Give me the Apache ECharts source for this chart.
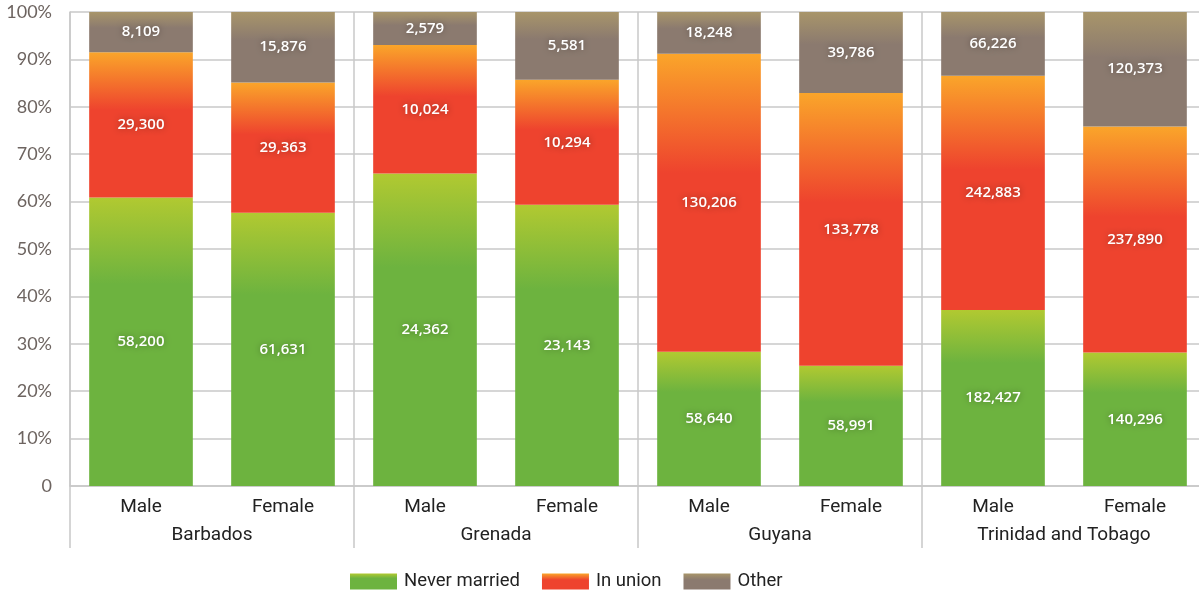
<!DOCTYPE html>
<html>
<head>
<meta charset="utf-8">
<script src="https://cdn.jsdelivr.net/npm/echarts@6/dist/echarts.min.js"></script>
<style>
html,body{margin:0;padding:0;background:#fff;overflow:hidden;width:1199px;height:590px;}
#chart{width:1206px;height:590px;}
</style>
</head>
<body>
<div id="chart"></div>
<script>
var sexes = ['Male', 'Female', 'Male', 'Female', 'Male', 'Female', 'Male', 'Female'];
var countries = ['Barbados', 'Grenada', 'Guyana', 'Trinidad and Tobago'];
var neverMarried = [58200, 61631, 24362, 23143, 58640, 58991, 182427, 140296];
var inUnion = [29300, 29363, 10024, 10294, 130206, 133778, 242883, 237890];
var other = [8109, 15876, 2579, 5581, 18248, 39786, 66226, 120373];
var yTicks = [0, 10, 20, 30, 40, 50, 60, 70, 80, 90, 100];

var totals = neverMarried.map(function (v, i) { return v + inUnion[i] + other[i]; });
function pct(arr) {
  return arr.map(function (v, i) { return { value: v / totals[i] * 100, raw: v }; });
}
function grad(stops) {
  return new echarts.graphic.LinearGradient(0, 0, 0, 1, stops);
}
var labelStyle = {
  show: true,
  position: 'inside',
  color: '#fff',
  fontFamily: 'Open Sans',
  fontWeight: 600,
  fontSize: 15,
  textShadowColor: 'rgba(0,0,0,0.35)',
  textShadowBlur: 6,
  formatter: function (p) { return p.data.raw.toLocaleString('en-US'); }
};
var textFont = 'Roboto';

var chart = echarts.init(document.getElementById('chart'), null, { renderer: 'canvas' });
chart.setOption({
  animation: false,
  backgroundColor: '#fff',
  grid: { left: 70, right: 0, top: 12, bottom: 104 },
  legend: {
    top: 567,
    left: 345,
    itemWidth: 47,
    itemHeight: 16,
    itemGap: 22,
    icon: 'rect',
    textStyle: { fontFamily: textFont, fontSize: 18.5, color: '#222', padding: [0, 0, 0, 2] },
    data: ['Never married', 'In union', 'Other']
  },
  xAxis: [
    {
      type: 'category',
      data: sexes,
      position: 'bottom',
      axisLine: { show: true, lineStyle: { color: '#c8c8c8', width: 1.5 } },
      axisTick: { show: false },
      axisLabel: { margin: 12, fontFamily: textFont, fontSize: 19, color: '#222' },
      splitLine: { show: false }
    },
    {
      type: 'category',
      data: countries,
      position: 'bottom',
      axisLine: { show: false },
      axisTick: { show: true, interval: 0, length: 62, lineStyle: { color: '#c8c8c8', width: 1.5 } },
      axisLabel: { margin: 40, interval: 0, fontFamily: textFont, fontSize: 19, color: '#222' },
      splitLine: { show: true, interval: 0, lineStyle: { color: '#c8c8c8', width: 1.5 } }
    }
  ],
  yAxis: {
    type: 'value',
    min: 0,
    max: 100,
    interval: 10,
    axisLine: { show: true, lineStyle: { color: '#c8c8c8', width: 1.5 } },
    axisTick: { show: false },
    splitLine: { show: true, lineStyle: { color: '#c8c8c8', width: 1.5 } },
    axisLabel: {
      margin: 18,
      fontFamily: 'Lato',
      fontSize: 18,
      color: '#6d6460',
      formatter: function (v) { return yTicks.indexOf(v) === 0 ? '0' : v + '%'; }
    }
  },
  series: [
    {
      name: 'Never married',
      type: 'bar',
      stack: 'total',
      xAxisIndex: 0,
      barCategoryGap: '27%',
      data: pct(neverMarried),
      itemStyle: { color: grad([{ offset: 0, color: '#b1c931' }, { offset: 0.3, color: '#6db33f' }, { offset: 1, color: '#6db33f' }]) },
      label: labelStyle
    },
    {
      name: 'In union',
      type: 'bar',
      stack: 'total',
      xAxisIndex: 0,
      data: pct(inUnion),
      itemStyle: { color: grad([{ offset: 0, color: '#faa52a' }, { offset: 0.4, color: '#ee432e' }, { offset: 1, color: '#ee432e' }]) },
      label: labelStyle
    },
    {
      name: 'Other',
      type: 'bar',
      stack: 'total',
      xAxisIndex: 0,
      data: pct(other),
      itemStyle: { color: grad([{ offset: 0, color: '#a8956a' }, { offset: 0.4, color: '#8b7a6f' }, { offset: 1, color: '#8b7a6f' }]) },
      label: labelStyle
    }
  ]
});
</script>
</body>
</html>
